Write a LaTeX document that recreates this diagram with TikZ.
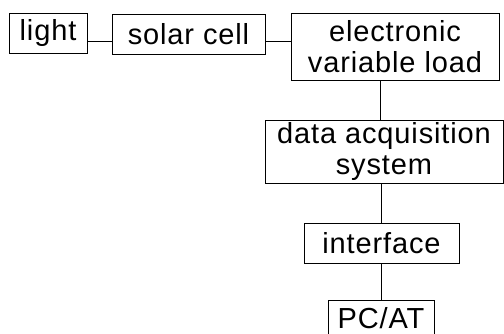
\documentclass[tikz,border=0pt]{standalone}
\usepackage{fontspec}
\setmainfont{Liberation Sans}[LetterSpace=3]
\usepackage{tikz}
\usetikzlibrary{shapes}

\begin{document}
\begin{tikzpicture}[x=1pt, y=-1pt,
  box/.style={draw, line width=0.9pt, inner sep=0pt, align=center,
    font=\fontsize{29}{31}\selectfont},
  wire/.style={line width=0.7pt}]
\useasboundingbox (0,0) rectangle (504,333);
\node[box, minimum width=78pt, minimum height=40pt] (light) at (48,33) {light};
\node[box, minimum width=153pt, minimum height=40pt] (cell) at (188.5,34) {solar cell};
\node[box, minimum width=208pt, minimum height=67pt] (load) at (395,46.5) {electronic\\variable load};
\node[box, minimum width=238pt, minimum height=63pt] (daq) at (384,151.5) {data acquisition\\system};
\node[box, minimum width=155pt, minimum height=40pt] (iface) at (381.5,243) {interface};
\node[box, minimum width=106pt, minimum height=36pt] (pc) at (381,318) {PC/AT};

\draw[wire] ([yshift=-8pt]light.east) -- ([yshift=-8pt]light.east -| cell.west);
\draw[wire] ([yshift=-7pt]cell.east) -- ([yshift=-7pt]cell.east -| load.west);
\draw[wire] (load.south -| 380,0) -- (daq.north -| 380,0);
\draw[wire] (daq.south -| 381,0) -- (iface.north -| 381,0);
\draw[wire] (iface.south -| 381,0) -- (pc.north -| 381,0);
\end{tikzpicture}
\end{document}
